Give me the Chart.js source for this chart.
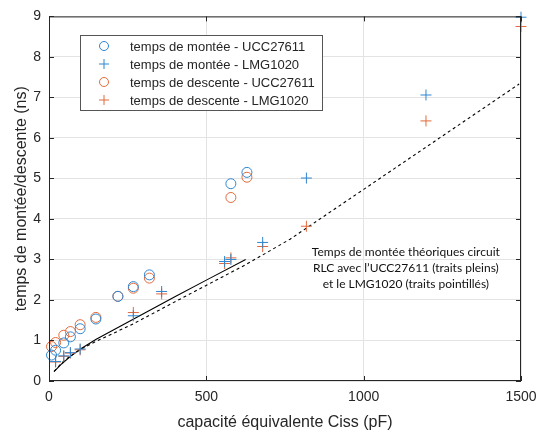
<!DOCTYPE html>
<html>
<head>
<meta charset="utf-8">
<script src="https://cdn.jsdelivr.net/npm/chart.js@4.4.1/dist/chart.umd.min.js"></script>
<style>
  body { margin: 0; background: #fff; }
  #c { display: block; }
</style>
</head>
<body>
<canvas id="c" width="549" height="432"></canvas>
<script>
// Mesures (capacité en pF, temps en ns)
const capaUCC = [8, 21, 47, 68, 99, 149, 219, 268, 319, 578, 629];
const monteeUCC = [0.64, 0.76, 0.94, 1.09, 1.29, 1.53, 2.09, 2.33, 2.62, 4.87, 5.15];
const descenteUCC = [0.85, 0.95, 1.13, 1.22, 1.39, 1.57, 2.09, 2.29, 2.54, 4.53, 5.03];

const capaLMG = [21, 47, 68, 99, 268, 358, 558, 578, 679, 818, 1198, 1500];
const monteeLMG = [0.48, 0.62, 0.70, 0.79, 1.61, 2.21, 2.95, 3.00, 3.42, 5.01, 7.06, 8.98];
const descenteLMG = [0.47, 0.61, 0.69, 0.77, 1.69, 2.15, 2.90, 3.04, 3.32, 3.82, 6.42, 8.75];

// Courbes théoriques
const capaTheoUCC = [16, 40, 70, 100, 150, 200, 300, 400, 500, 625];
const theoUCC = [0.23, 0.42, 0.62, 0.79, 1.03, 1.24, 1.66, 2.08, 2.49, 3.0];
const capaTheoLMG = [16, 50, 100, 150, 200, 270, 416, 625, 766, 1000, 1494];
const theoLMG = [0.24, 0.52, 0.78, 0.98, 1.16, 1.42, 2.02, 2.87, 3.5, 4.73, 7.33];

const xTicks = [0, 500, 1000, 1500];
const yTicks = [0, 1, 2, 3, 4, 5, 6, 7, 8, 9];

const legendLabels = [
  "temps de montée - UCC27611",
  "temps de montée - LMG1020",
  "temps de descente - UCC27611",
  "temps de descente - LMG1020"
];
const noteLines = [
  "Temps de montée théoriques circuit",
  "RLC avec l’UCC27611 (traits pleins)",
  "et le LMG1020 (traits pointillés)"
];

const bleu = "#2f86d0";
const orange = "#e26a3c";
const axe = "#262626";
const police = "'Liberation Sans', Arial, sans-serif";

const pts = (xs, ys) => xs.map((x, i) => ({ x: x, y: ys[i] }));

// cadre, graduations intérieures, légende et note
const decor = {
  id: "decor",
  afterDraw(chart) {
    const { ctx, chartArea: a, scales } = chart;
    ctx.save();
    ctx.strokeStyle = axe;
    ctx.lineWidth = 1;
    ctx.strokeRect(a.left + 0.5, a.top + 0.5, a.right - a.left - 1, a.bottom - a.top - 1);
    ctx.beginPath();
    xTicks.forEach(v => {
      const px = Math.round(scales.x.getPixelForValue(v)) + 0.5;
      ctx.moveTo(px, a.bottom); ctx.lineTo(px, a.bottom - 5);
      ctx.moveTo(px, a.top); ctx.lineTo(px, a.top + 5);
    });
    yTicks.forEach(v => {
      const py = Math.round(scales.y.getPixelForValue(v)) + 0.5;
      ctx.moveTo(a.left, py); ctx.lineTo(a.left + 5, py);
      ctx.moveTo(a.right, py); ctx.lineTo(a.right - 5, py);
    });
    ctx.stroke();

    // légende
    const lx = 80, ly = 35, lw = 242, lh = 75;
    ctx.fillStyle = "#fff";
    ctx.fillRect(lx, ly, lw, lh);
    ctx.strokeStyle = "#555";
    ctx.strokeRect(lx + 0.5, ly + 0.5, lw, lh);
    ctx.font = "13px " + police;
    ctx.textBaseline = "middle";
    ctx.textAlign = "left";
    legendLabels.forEach((t, i) => {
      const ds = chart.data.datasets[i];
      const y = ly + 11 + i * 18;
      const mx = 104;
      ctx.strokeStyle = ds.borderColor;
      ctx.lineWidth = 1;
      ctx.beginPath();
      if (ds.pointStyle === "circle") {
        ctx.arc(mx, y, 4.5, 0, Math.PI * 2);
      } else {
        ctx.moveTo(mx - 5, y); ctx.lineTo(mx + 5, y);
        ctx.moveTo(mx, y - 5); ctx.lineTo(mx, y + 5);
      }
      ctx.stroke();
      ctx.fillStyle = axe;
      ctx.fillText(t, 130, y + 1);
    });

    // note
    ctx.font = "12px Lato, 'Open Sans', sans-serif";
    ctx.textAlign = "center";
    ctx.fillStyle = "#111";
    const nx = scales.x.getPixelForValue(1134);
    const ny = scales.y.getPixelForValue(3.17);
    noteLines.forEach((t, i) => ctx.fillText(t, nx, ny + i * 16));
    ctx.restore();
  }
};

new Chart(document.getElementById("c"), {
  type: "scatter",
  data: {
    datasets: [
      {
        label: legendLabels[0],
        data: pts(capaUCC, monteeUCC), clip: false,
        pointStyle: "circle", pointRadius: 5, borderColor: bleu, backgroundColor: "rgba(0,0,0,0)", borderWidth: 1
      },
      {
        label: legendLabels[1],
        data: pts(capaLMG, monteeLMG), clip: false,
        pointStyle: "cross", pointRadius: 5.5, borderColor: bleu, backgroundColor: bleu, borderWidth: 1
      },
      {
        label: legendLabels[2],
        data: pts(capaUCC, descenteUCC), clip: false,
        pointStyle: "circle", pointRadius: 5, borderColor: orange, backgroundColor: "rgba(0,0,0,0)", borderWidth: 1
      },
      {
        label: legendLabels[3],
        data: pts(capaLMG, descenteLMG), clip: false,
        pointStyle: "cross", pointRadius: 5.5, borderColor: orange, backgroundColor: orange, borderWidth: 1
      },
      {
        label: "théorie UCC27611",
        data: pts(capaTheoUCC, theoUCC),
        showLine: true, pointRadius: 0, borderColor: "#000", borderWidth: 1.1, tension: 0
      },
      {
        label: "théorie LMG1020",
        data: pts(capaTheoLMG, theoLMG),
        showLine: true, pointRadius: 0, borderColor: "#000", borderWidth: 1.1, borderDash: [3, 3], tension: 0
      }
    ]
  },
  options: {
    responsive: false,
    animation: false,
    layout: { padding: { top: 9, right: 28, left: 0, bottom: 0 } },
    plugins: { legend: { display: false }, tooltip: { enabled: false } },
    scales: {
      x: {
        type: "linear", min: 0, max: 1500,
        afterBuildTicks: s => { s.ticks = xTicks.map(v => ({ value: v })); },
        afterFit: s => { s.height = 51; },
        grid: { color: "#e3e3e3", drawTicks: false },
        border: { display: false },
        ticks: {
          color: axe, padding: 8, maxRotation: 0, font: { size: 14, family: police },
          callback: v => String(v)
        },
        title: {
          display: true, text: "capacité équivalente Ciss (pF)", color: axe,
          padding: { top: 5, bottom: 0 },
          font: { size: 16, family: police }
        }
      },
      y: {
        type: "linear", min: 0, max: 9,
        afterBuildTicks: s => { s.ticks = yTicks.map(v => ({ value: v })); },
        afterFit: s => { s.width = 49; },
        grid: { color: "#e3e3e3", drawTicks: false },
        border: { display: false },
        ticks: { color: axe, padding: 8, font: { size: 14, family: police }, callback: v => String(v) },
        title: {
          display: true, text: "temps de montée/descente (ns)", color: axe,
          padding: { top: 12, bottom: 0 },
          font: { size: 16, family: police }
        }
      }
    }
  },
  plugins: [decor]
});
</script>
</body>
</html>
